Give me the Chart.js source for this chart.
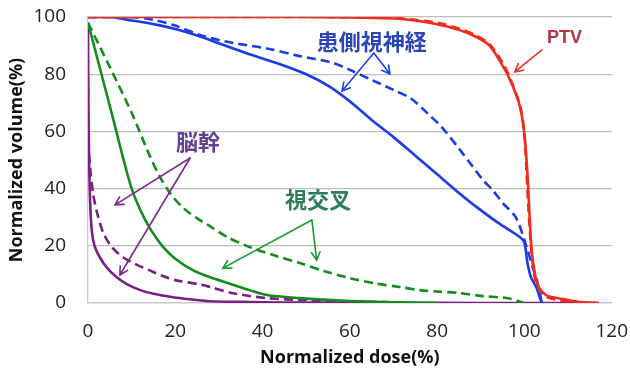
<!DOCTYPE html>
<html>
<head>
<meta charset="utf-8">
<script src="https://cdn.jsdelivr.net/npm/chart.js@4"></script>
<style>
  html, body { margin: 0; padding: 0; background: #fff; }
  #wrap { width: 630px; height: 371px; }
</style>
</head>
<body>
<div id="wrap"><canvas id="dvh"></canvas></div>
<script>
// x tick values / y tick values
const doseTicks = [0, 20, 40, 60, 80, 100, 120];
const volTicks = [0, 20, 40, 60, 80, 100];

// PTV
const ptvDose = [0, 50, 70, 75, 80, 85, 89, 92, 95, 97, 99, 100, 100.7, 101.2, 101.6, 102.2, 102.7, 103.5, 105, 106.5, 108, 110, 113, 117];
const ptvVol = [100, 100, 99.5, 98.8, 97.5, 95.5, 93, 90, 83, 77, 68.5, 59, 45, 30, 19.5, 12, 8, 5, 2.7, 2, 1.6, 1, 0.3, 0];
const ptvDoseB = [0, 50, 70, 75, 80, 85, 89, 92, 95, 97, 99, 100, 100.5, 101, 101.5, 102, 102.5, 103.5, 105, 107, 110, 114];
const ptvVolB = [100, 100, 99.7, 99, 98, 96, 93.5, 90.5, 84, 77.5, 69, 59, 45, 31, 20, 12.5, 8, 4.5, 2.2, 1.2, 0.5, 0];

// optic nerve (affected side)
const nerveDose = [0, 5, 10, 15, 20, 25, 30, 37, 44, 50, 55, 60, 65, 70, 75, 80, 85, 89, 94, 99, 100, 100.7, 101.5, 102.7, 103.5, 104];
const nerveVol = [100, 100, 98.8, 97.5, 95.8, 93.5, 90.8, 87, 83.5, 80, 76, 70.5, 64, 58, 51.5, 45, 38.5, 33.6, 28, 23, 21, 14, 9, 5.6, 2, 0];
const nerveDoseB = [0, 10, 15, 20, 26, 33, 41, 48, 56, 60, 65, 70, 74, 78, 81, 85, 88, 90.5, 92.7, 95, 98, 100.5, 102, 102.7, 104];
const nerveVolB = [100, 100, 99, 97, 93.5, 91, 89, 86.5, 84, 81.5, 78, 74.5, 71.5, 66, 61.6, 54, 48, 43, 39.5, 35, 30, 19.6, 12, 9, 0];

// chiasm
const chiasmDose = [0, 3, 6, 8, 10, 12, 14, 17, 20, 24, 28, 33, 37, 41, 48.5, 56, 64, 72, 80];
const chiasmVol = [98, 80.5, 63, 51, 40, 32.5, 26.6, 20, 15.5, 11.5, 9, 6.5, 4.5, 2.8, 1.7, 1, 0.5, 0.2, 0];
const chiasmDoseB = [0, 5, 10, 14, 16.5, 19, 22, 25.6, 28, 32, 37, 43, 48.5, 54, 60, 66, 71.4, 76, 80, 85, 90, 96.5, 100];
const chiasmVolB = [98, 82.5, 66.5, 52, 44, 38, 33, 29, 26.8, 23, 19.6, 16.5, 14, 11.2, 8.7, 6.8, 5.6, 4.5, 4, 3.5, 2.5, 1.6, 0];

// brainstem
const stemDose = [0, 0.1, 0.25, 0.5, 0.85, 1.5, 2.7, 4.5, 6.6, 9, 12, 15, 19.5, 24, 28, 35, 45, 60, 80, 100, 117];
const stemVol = [98, 70, 50, 35, 25.5, 20, 16, 12, 9, 6.5, 4.5, 3.2, 2, 1.2, 0.6, 0.4, 0.2, 0.1, 0.05, 0, 0];
const stemDoseB = [0, 0.5, 1.2, 2, 3.5, 5.5, 8, 11, 14, 17, 20, 25.6, 28, 33, 41, 50, 60, 75];
const stemVolB = [57, 47, 38, 32, 24.5, 19.5, 16, 13.5, 11.5, 9.5, 8, 6.5, 5.6, 3.5, 1.7, 1, 0.6, 0];

// labels and arrows, in data units (dose, volume)
const labelText = ["PTV", "患側視神経", "視交叉", "脳幹"];
const labelPos = [[109.2, 92.7], [65, 91.3], [52.7, 36], [25.2, 56.3]];
const arrowFrom = [[[104, 88.5]], [[65.5, 87.4], [65.5, 87.4]], [[51.3, 29], [51.3, 29]], [[23.4, 50.7], [23.4, 50.7]]];
const arrowTo = [[[97.8, 80.8]], [[58.2, 74.1], [69.2, 80.1]], [[30.9, 12.2], [52.4, 15]], [[6.2, 34.3], [7.3, 9.8]]];
const labelColor = ["#b8323f", "#2b45b8", "#2e7d5a", "#65408f"];
const arrowColor = ["#ec3324", "#1f3fe0", "#1b9a2e", "#7d2a8a"];

const red = "#f22c1c", blue = "#1c3ce6", green = "#138c1c", purple = "#7a1f86";

function pts(xs, ys) {
    return xs.map((x, i) => ({ x: x, y: ys[i] }));
}
function series(label, xs, ys, color, dashed) {
    return {
        label: label,
        data: pts(xs, ys),
        borderColor: color,
        backgroundColor: color,
        borderWidth: 2.6,
        borderDash: dashed ? [9, 5] : [],
        pointRadius: 0,
        tension: 0.3,
        fill: false
    };
}

// arrows + japanese labels on top of the curves
const annotations = {
    id: "annotations",
    afterDatasetsDraw(chart) {
        const ctx = chart.ctx;
        const xs = chart.scales.x, ys = chart.scales.y;
        ctx.save();
        labelText.forEach((txt, i) => {
            ctx.strokeStyle = arrowColor[i];
            ctx.lineWidth = 1.6;
            ctx.lineCap = "round";
            arrowFrom[i].forEach((f, j) => {
                const t = arrowTo[i][j];
                const x1 = xs.getPixelForValue(f[0]), y1 = ys.getPixelForValue(f[1]);
                const x2 = xs.getPixelForValue(t[0]), y2 = ys.getPixelForValue(t[1]);
                const a = Math.atan2(y2 - y1, x2 - x1);
                ctx.beginPath();
                ctx.moveTo(x1, y1);
                ctx.lineTo(x2, y2);
                ctx.moveTo(x2 - 9 * Math.cos(a - 0.5), y2 - 9 * Math.sin(a - 0.5));
                ctx.lineTo(x2, y2);
                ctx.lineTo(x2 - 9 * Math.cos(a + 0.5), y2 - 9 * Math.sin(a + 0.5));
                ctx.stroke();
            });
            const p = labelPos[i];
            ctx.font = i === 0 ? "bold 18px 'Liberation Sans', Arial, sans-serif" : "bold 22px 'Noto Sans CJK JP', sans-serif";
            ctx.fillStyle = labelColor[i];
            ctx.textAlign = "center";
            ctx.textBaseline = "middle";
            ctx.fillText(txt, xs.getPixelForValue(p[0]), ys.getPixelForValue(p[1]));
        });
        ctx.restore();
    }
};

const ctx = document.getElementById("dvh");
const chart = new Chart(ctx, {
    type: "line",
    data: {
        datasets: [
            series("PTV", ptvDose, ptvVol, red, false),
            series("PTV 2", ptvDoseB, ptvVolB, red, true),
            series("患側視神経", nerveDose, nerveVol, blue, false),
            series("患側視神経 2", nerveDoseB, nerveVolB, blue, true),
            series("視交叉", chiasmDose, chiasmVol, green, false),
            series("視交叉 2", chiasmDoseB, chiasmVolB, green, true),
            series("脳幹", stemDose, stemVol, purple, false),
            series("脳幹 2", stemDoseB, stemVolB, purple, true)
        ]
    },
    options: {
        animation: false,
        responsive: true,
        maintainAspectRatio: false,
        layout: { padding: { top: 17, right: 0, left: 0, bottom: 0 } },
        plugins: {
            legend: { display: false },
            tooltip: { enabled: false }
        },
        scales: {
            x: {
                type: "linear",
                min: 0,
                max: 120,
                afterFit: (scale) => { scale.height = 68; },
                afterBuildTicks: (scale) => { scale.ticks = doseTicks.map(v => ({ value: v })); },
                grid: { display: false, drawTicks: true, tickLength: 15, tickColor: "rgba(0,0,0,0)" },
                border: { display: true, color: "#c8c8c8", width: 1.3 },
                ticks: {
                    padding: 2,
                    color: "#222",
                    font: { family: "Open Sans", size: 19 }
                },
                title: {
                    display: true,
                    text: "Normalized dose(%)",
                    color: "#111",
                    padding: { top: 2, bottom: 2 },
                    font: { family: "Open Sans", size: 18, weight: "bold" }
                }
            },
            y: {
                min: 0,
                max: 100,
                afterFit: (scale) => { scale.width = 88; },
                afterBuildTicks: (scale) => { scale.ticks = volTicks.map(v => ({ value: v })); },
                grid: { color: "#bdbdbd", lineWidth: 1.3, drawTicks: true, tickLength: 17, tickColor: "rgba(0,0,0,0)" },
                border: { display: true, color: "#c8c8c8", width: 1.3 },
                ticks: {
                    padding: 5,
                    color: "#222",
                    font: { family: "Open Sans", size: 19 }
                },
                title: {
                    display: true,
                    text: "Normalized volume(%)",
                    color: "#111",
                    padding: { top: 6, bottom: 0 },
                    font: { family: "Open Sans", size: 18, weight: "bold" }
                }
            }
        }
    },
    plugins: [annotations]
});
</script>
</body>
</html>
